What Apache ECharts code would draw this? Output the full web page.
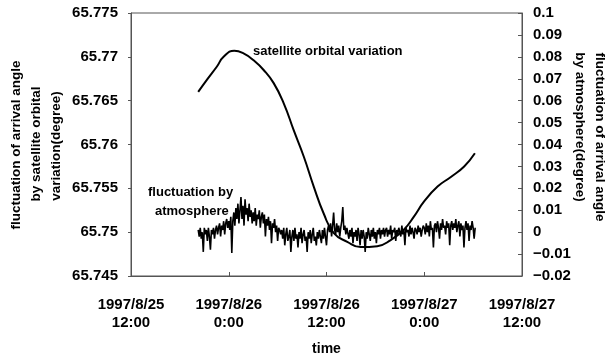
<!DOCTYPE html>
<html>
<head>
<meta charset="utf-8">
<script src="https://cdn.jsdelivr.net/npm/echarts@6/dist/echarts.min.js"></script>
<style>html,body{margin:0;padding:0;background:#fff}#c{width:607px;height:356px}</style>
</head>
<body>
<div id="c"></div>
<script>
// x-axis tick labels (every 12 hours starting 1997/8/25 12:00)
var axisStart = '1997-08-25 12:00';
var xTickLabels = ['1997/8/25\n12:00', '1997/8/26\n0:00', '1997/8/26\n12:00', '1997/8/27\n0:00', '1997/8/27\n12:00'];
var xAxisName = 'time';
var leftAxisNameLines = ['fluctuation of arrival angle', 'by satellite orbital', 'variation(degree)'];
var rightAxisNameLines = ['fluctuation of arrival angle', 'by atmosphere(degree)'];

// satellite orbital variation (left axis, degree)
var satTimes = ['1997-08-25 20:15','1997-08-25 21:20','1997-08-25 22:33','1997-08-25 23:22','1997-08-26 00:41',
  '1997-08-26 01:49','1997-08-26 03:03','1997-08-26 04:17','1997-08-26 05:31','1997-08-26 06:45',
  '1997-08-26 07:59','1997-08-26 09:13','1997-08-26 10:26','1997-08-26 11:40','1997-08-26 12:54',
  '1997-08-26 14:33','1997-08-26 16:11','1997-08-26 18:14','1997-08-26 19:53','1997-08-26 21:31',
  '1997-08-26 22:45','1997-08-26 23:59','1997-08-27 01:38','1997-08-27 03:16','1997-08-27 04:54','1997-08-27 06:13'];
var satValues = [65.7660,65.7674,65.7689,65.7700,65.7707,
  65.7704,65.7696,65.7685,65.7670,65.7647,
  65.7616,65.7586,65.7552,65.7521,65.7499,
  65.7489,65.7483,65.7484,65.7491,65.7503,
  65.7518,65.7535,65.7552,65.7563,65.7575,65.7590];

// fluctuation by atmosphere (right axis, degree), sampled every 7.5 minutes
var atmoStart = '1997-08-25 20:15';
var atmoStepMinutes = 7.5;
var atmoValues = [
  0.001,-0.002,0.002,-0.003,0.000,-0.009,0.002,-0.001,0.001,-0.004,
  0.002,-0.002,-0.008,0.001,-0.001,0.002,-0.003,0.001,
  0.003,-0.001,0.002,0.004,-0.002,0.003,0.001,0.005,-0.001,0.004,
  0.006,0.002,0.005,0.001,0.007,
  -0.0095,
  0.005,0.009,0.003,0.011,0.006,0.013,0.004,0.010,0.016,0.006,
  0.012,0.003,0.015,0.008,0.011,0.005,0.013,0.007,0.010,0.004,
  0.009,0.005,0.011,0.003,0.008,0.006,0.010,0.002,0.007,0.009,
  0.004,0.008,-0.002,0.006,0.003,0.007,0.001,0.005,-0.005,0.004,
  0.002,0.006,0.000,0.003,-0.004,0.002,0.001,-0.001,
  0.001,-0.003,0.002,-0.006,-0.001,0.002,-0.004,-0.002,0.001,-0.009,
  -0.002,0.001,-0.004,0.002,-0.003,-0.001,-0.007,0.000,-0.003,0.002,
  -0.005,-0.001,0.001,-0.004,-0.002,-0.009,0.000,-0.003,0.001,-0.005,
  -0.001,0.002,-0.004,-0.002,-0.006,0.000,-0.003,0.001,-0.002,-0.005,
  0.001,-0.003,0.002,-0.002,-0.006,0.001,0.003,
  0.000,0.004,-0.002,0.003,0.009,0.001,-0.001,0.004,0.000,0.003,
  -0.002,0.002,0.005,0.0115,0.001,0.003,-0.001,0.002,
  0.002,-0.003,0.001,-0.002,0.002,-0.005,0.000,-0.002,0.001,-0.004,
  0.002,-0.001,-0.006,0.001,-0.003,0.001,-0.002,-0.009,0.000,-0.003,
  0.002,-0.001,-0.004,0.001,-0.002,0.002,-0.003,0.000,-0.005,0.001,
  -0.001,0.002,-0.003,0.001,-0.001,0.002,-0.002,0.001,
  0.002,-0.002,0.001,-0.001,0.003,-0.003,0.001,0.000,0.002,-0.004,
  0.001,-0.001,0.002,0.000,-0.002,0.003,-0.001,0.001,-0.006,0.002,
  0.000,0.001,-0.002,0.003,-0.001,0.002,0.000,-0.003,0.002,0.001,
  -0.001,0.003,0.000,0.002,-0.002,0.001,0.003,
  0.002,-0.001,0.004,0.000,0.003,-0.002,0.005,0.001,0.002,-0.007,
  0.003,0.004,0.000,0.005,0.002,-0.003,0.004,0.001,0.006,0.002,
  0.003,-0.001,0.005,0.002,0.004,-0.006,0.003,0.005,0.001,0.004,
  0.002,0.006,0.000,0.003,0.005,-0.002,0.004,0.001,0.003,-0.007,
  0.002,0.005,0.001,0.004,-0.004,0.003,0.001,0.005,0.002,-0.003,
  0.002
];

function parseT(s){
  var p = s.split(/[- :]/).map(Number);
  return Date.UTC(p[0], p[1]-1, p[2], p[3], p[4]);
}
var t0 = parseT(axisStart);
function hoursOf(s){ return (parseT(s) - t0) / 3600000; }

var satData = satTimes.map(function(t,i){ return [hoursOf(t), satValues[i]]; });
var atmoH0 = hoursOf(atmoStart);
var atmoData = atmoValues.map(function(v,i){ return [atmoH0 + i*atmoStepMinutes/60, v]; });

var FONT = '"Liberation Sans", Arial, sans-serif';
var tickFont = {color:'#000', fontSize:15, fontFamily:FONT, fontWeight:'bold'};
var nameFont = 'bold 13.5px ' + FONT;

function vText(text, x, y, rot){
  return {type:'text', x:x, y:y, rotation:rot, silent:true,
    style:{text:text, fill:'#000', font:nameFont, align:'center', verticalAlign:'middle'}};
}

var chart = echarts.init(document.getElementById('c'));
chart.setOption({
  animation:false,
  backgroundColor:'#fff',
  grid:{left:131, right:85, top:13, bottom:80, outerBoundsMode:'none', containLabel:false,
        show:true, borderColor:'#555', borderWidth:1, backgroundColor:'transparent'},
  xAxis:{
    type:'value', min:0, max:48, interval:12,
    name:xAxisName, nameLocation:'middle', nameGap:66, nameMoveOverlap:false,
    nameTextStyle:{color:'#000', fontSize:14, fontFamily:FONT, fontWeight:'bold'},
    axisLine:{show:true, onZero:false, lineStyle:{color:'#555', width:1}},
    axisTick:{show:true, inside:true, length:4, lineStyle:{color:'#555'}},
    splitLine:{show:false},
    axisLabel:Object.assign({margin:20, lineHeight:18, formatter:function(v){ return xTickLabels[Math.round(v/12)]; }}, tickFont)
  },
  yAxis:[{
    type:'value', min:65.745, max:65.775, interval:0.005, position:'left',
    axisLine:{show:true, lineStyle:{color:'#555', width:1}},
    axisTick:{show:true, inside:false, length:3, lineStyle:{color:'#555'}},
    splitLine:{show:false},
    axisLabel:Object.assign({margin:13, formatter:function(v){ return String(+v.toFixed(3)); }}, tickFont)
  },{
    type:'value', min:-0.02, max:0.1, interval:0.01, position:'right',
    axisLine:{show:true, onZero:false, lineStyle:{color:'#555', width:1}},
    axisTick:{show:true, inside:true, length:4, lineStyle:{color:'#555'}},
    splitLine:{show:false},
    axisLabel:Object.assign({margin:11, formatter:function(v){ var s = String(+v.toFixed(2)); return s.replace('-', '\u2212'); }}, tickFont)
  }],
  series:[{
    name:'satellite orbital variation', type:'line', yAxisIndex:0, data:satData,
    smooth:true, showSymbol:false, lineStyle:{color:'#000', width:2}
  },{
    name:'fluctuation by atmosphere', type:'line', yAxisIndex:1, data:atmoData,
    showSymbol:false, lineStyle:{color:'#000', width:1.6}
  }],
  graphic:[
    vText(leftAxisNameLines[0], 16, 145, Math.PI/2),
    vText(leftAxisNameLines[1], 36, 144, Math.PI/2),
    vText(leftAxisNameLines[2], 56, 146, Math.PI/2),
    vText(rightAxisNameLines[0], 600, 137, -Math.PI/2),
    vText(rightAxisNameLines[1], 580, 127, -Math.PI/2),
    {type:'text', left:253, top:45, style:{text:'satellite orbital variation', fill:'#000', font:'bold 13px '+FONT}},
    {type:'text', left:148, top:186, style:{text:'fluctuation by', fill:'#000', font:'bold 13px '+FONT}},
    {type:'text', left:155, top:205, style:{text:'atmosphere', fill:'#000', font:'bold 13px '+FONT}}
  ]
});
</script>
</body>
</html>
